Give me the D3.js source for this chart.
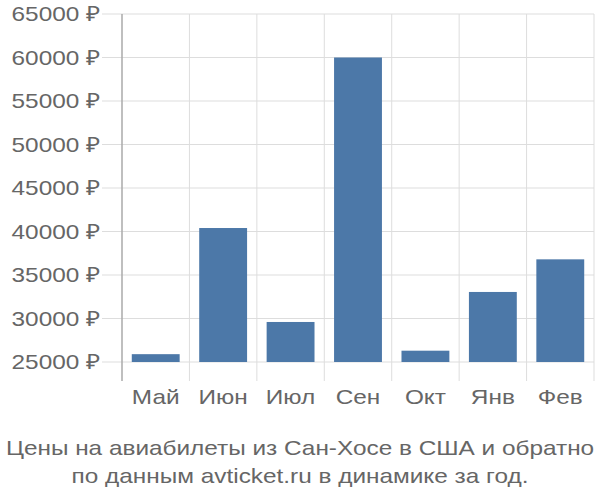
<!DOCTYPE html>
<html><head><meta charset="utf-8">
<script src="https://cdn.jsdelivr.net/npm/d3@7"></script>
<style>body{margin:0;background:#fff}text{font-family:"Liberation Sans",Arial,sans-serif;fill:#666}</style>
</head><body><svg id="c" width="600" height="500"></svg>
<script>
const categories = ["Май","Июн","Июл","Сен","Окт","Янв","Фев"];
const values = [25900, 40400, 29600, 60000, 26300, 33050, 36800];
const yTicks = [25000,30000,35000,40000,45000,50000,55000,60000,65000];
const titleLines = ["Цены на авиабилеты из Сан-Хосе в США и обратно","по данным avticket.ru в динамике за год."];

const SX = 1.16, FS = 21;
const svg = d3.select("#c");
const x = d3.scaleBand().domain(categories).range([122,594]).paddingInner(0.29).paddingOuter(0.145);
const xg = d3.scaleBand().domain(categories).range([122,594]);
const y = d3.scaleLinear().domain([25000,65000]).range([362,14]);

svg.append("g").selectAll("line").data(yTicks).join("line")
  .attr("x1",102).attr("x2",594).attr("y1",d=>y(d)).attr("y2",d=>y(d))
  .attr("stroke","#ddd").attr("stroke-width",1);
const vx = categories.map(c=>xg(c)).concat([594]);
svg.append("g").selectAll("line").data(vx.slice(1)).join("line")
  .attr("x1",d=>d).attr("x2",d=>d).attr("y1",14).attr("y2",381)
  .attr("stroke","#ddd").attr("stroke-width",1);
svg.append("g").selectAll("rect").data(values).join("rect")
  .attr("x",(d,i)=>x(categories[i])).attr("width",x.bandwidth())
  .attr("y",d=>y(d)).attr("height",d=>y(25000)-y(d))
  .attr("fill","#4c78a8");
svg.append("line").attr("x1",122).attr("x2",122).attr("y1",14).attr("y2",381)
  .attr("stroke","#aaa").attr("stroke-width",1.5);

function stretchedText(g, data, xf, yf, anchor, txt){
  g.selectAll("text").data(data).join("text")
    .attr("transform",(d,i)=>`translate(${xf(d,i)},${yf(d,i)}) scale(${SX},1)`)
    .attr("text-anchor",anchor).attr("font-size",FS).text(txt);
}
stretchedText(svg.append("g"), yTicks, d=>100, d=>y(d)+7.4, "end", d=>d+" ₽");
stretchedText(svg.append("g"), categories, d=>xg(d)+xg.bandwidth()/2, d=>404, "middle", d=>d);
stretchedText(svg.append("g"), titleLines, d=>300, (d,i)=>455+i*28, "middle", d=>d);
</script></body></html>
